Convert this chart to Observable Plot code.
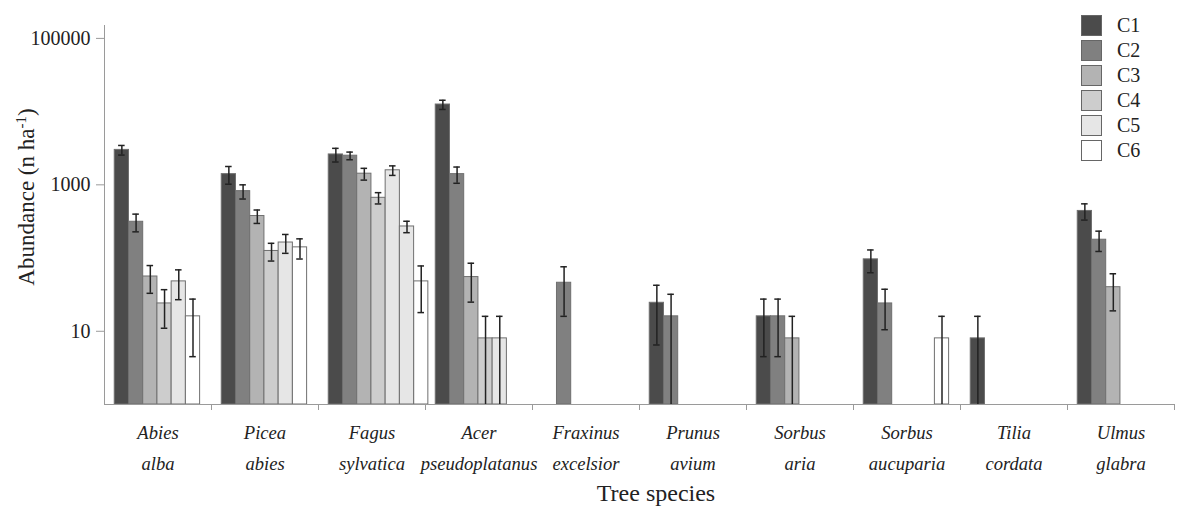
<!DOCTYPE html>
<html>
<head>
<meta charset="utf-8">
<script src="https://cdn.jsdelivr.net/npm/d3@7"></script>
<script src="https://cdn.jsdelivr.net/npm/@observablehq/plot@0.6"></script>
<style>
  html, body { margin: 0; padding: 0; background: #fff; }
  #wrap { position: relative; width: 1177px; height: 507px; font-family: "Liberation Serif", "Times New Roman", serif; }
  #legend { position: absolute; left: 1081px; top: 15px; }
  .item { display: flex; align-items: center; height: 21px; margin-bottom: 4px; }
  .sw { width: 19px; height: 19px; border: 1px solid #666; box-sizing: content-box; }
  .lab { margin-left: 15px; font-size: 20px; color: #222; }
</style>
</head>
<body>
<div id="wrap"><div id="legend"></div></div>
<script>
// ---- data ----
const species = ["Abies alba", "Picea abies", "Fagus sylvatica", "Acer pseudoplatanus", "Fraxinus excelsior",
                 "Prunus avium", "Sorbus aria", "Sorbus aucuparia", "Tilia cordata", "Ulmus glabra"];
const classes = ["C1", "C2", "C3", "C4", "C5", "C6"];
const classColors = ["#4b4b4b", "#808080", "#b3b3b3", "#cdcdcd", "#e6e6e6", "#ffffff"];

// mean abundance (n/ha) per class, species order as above (null = absent)
const c1 = [3000, 1400, 2600, 12500, null, 24.5, 16, 96, 8, 440];
const c2 = [313, 820, 2500, 1400, 46, 16, 16, 24, null, 178];
const c3 = [56, 375, 1420, 55, null, null, 8, null, null, 40];
const c4 = [24, 125, 665, 8, null, null, null, null, null, null];
const c5 = [48, 163, 1580, 8, null, null, null, null, null, null];
const c6 = [16, 140, 48, null, null, null, null, 8, null, null];
// standard errors
const c1se = [450, 380, 550, 1800, null, 18, 11.5, 33, 8, 110];
const c2se = [85, 180, 300, 350, 30, 16, 11.5, 13.5, null, 55];
const c3se = [23, 78, 260, 30, null, null, 8, null, null, 21];
const c4se = [13, 34, 117, 8, null, null, null, null, null, null];
const c5se = [21, 47, 235, 8, null, null, null, null, null, null];
const c6se = [11.5, 43, 30, null, null, null, null, 8, null, null];
// extra (seventh) bar drawn in the Fagus sylvatica group, between C5 and C6
const fagusExtra = {cls: "C5", value: 270, se: 48};

const yTicks = [10, 1000, 100000];
const yDomain = [1, 150000];
const xTitle = "Tree species";

// ---- build table ----
const series = [[c1, c1se], [c2, c2se], [c3, c3se], [c4, c4se], [c5, c5se], [c6, c6se]];
const bars = [];
series.forEach(([vals, ses], j) => vals.forEach((v, i) => {
  if (v != null) bars.push({species: species[i], cls: classes[j], slot: j, value: v, se: ses[i]});
}));
bars.forEach(b => { if (b.species === "Fagus sylvatica" && b.cls === "C6") b.slot = 6; });
bars.push({species: "Fagus sylvatica", cls: fagusExtra.cls, slot: 5, value: fagusExtra.value, se: fagusExtra.se});

const xDomain = [-0.72, 6.8];
const axisGray = "#9a9a9a";
const serif = '"Liberation Serif", "Times New Roman", serif';

const chart = Plot.plot({
  width: 1177, height: 507,
  marginLeft: 101, marginRight: 0, marginTop: 25, marginBottom: 103,
  style: {fontFamily: serif, fontSize: "18px", color: "#222", background: "white"},
  fx: {domain: species, paddingInner: 0, paddingOuter: 0, label: null},
  x: {type: "linear", domain: xDomain, label: null},
  y: {type: "log", domain: yDomain, label: null},
  color: {domain: classes, range: classColors},
  marks: [
    Plot.rect(bars, {fx: "species", x1: d => d.slot, x2: d => d.slot + 1, y1: yDomain[0], y2: "value",
                     fill: "cls", stroke: "#6f6f6f", strokeWidth: 1}),
    Plot.ruleX(bars, {fx: "species", x: d => d.slot + 0.5, y1: d => Math.max(d.value - d.se, yDomain[0]),
                      y2: d => d.value + d.se, stroke: "#222", strokeWidth: 1.5}),
    Plot.ruleY(bars, {fx: "species", x1: d => d.slot + 0.27, x2: d => d.slot + 0.73, y: d => d.value + d.se,
                      stroke: "#222", strokeWidth: 1.5}),
    Plot.ruleY(bars.filter(d => d.value - d.se > yDomain[0]),
               {fx: "species", x1: d => d.slot + 0.27, x2: d => d.slot + 0.73, y: d => d.value - d.se,
                stroke: "#222", strokeWidth: 1.5}),
    Plot.ruleY([yDomain[0]], {stroke: axisGray, strokeWidth: 1}),
    Plot.ruleX([species[0]], {fx: d => d, x: () => xDomain[0], y1: () => yDomain[0], y2: () => yDomain[1],
                              stroke: axisGray, strokeWidth: 1}),
    Plot.axisY({ticks: yTicks, tickFormat: d3.format("d"), tickSize: 8, tickPadding: 6, stroke: axisGray,
                fontSize: 20, fontFamily: serif, label: null}),
    Plot.axisX({ticks: [xDomain[1]], tickFormat: () => "", tickSize: 6, stroke: axisGray, label: null}),
    Plot.axisFx({anchor: "bottom", tickSize: 0, tickPadding: 13, fontSize: 18.6, fontStyle: "italic",
                 fontFamily: serif, lineHeight: 1.65, label: null, tickFormat: d => d.replace(" ", "\n")})
  ]
});

const svg = d3.select(chart);
// y-axis title with superscript
const yt = svg.append("text")
  .attr("transform", "translate(34,197) rotate(-90)")
  .attr("text-anchor", "middle")
  .attr("font-family", serif)
  .attr("font-size", 23).attr("fill", "#222");
yt.append("tspan").text("Abundance (n ha");
yt.append("tspan").attr("baseline-shift", "super").attr("font-size", 15).text("-1");
yt.append("tspan").text(")");
// x-axis title
svg.append("text").attr("x", 656).attr("y", 501).attr("text-anchor", "middle")
  .attr("font-family", serif)
  .attr("font-size", 24).attr("fill", "#222").text(xTitle);

document.getElementById("wrap").prepend(chart);
chart.style.position = "absolute"; chart.style.left = "0"; chart.style.top = "0";

// legend
const leg = d3.select("#legend");
classes.forEach((c, i) => {
  const it = leg.append("div").attr("class", "item");
  it.append("div").attr("class", "sw").style("background", classColors[i]);
  it.append("div").attr("class", "lab").text(c);
});
</script>
</body>
</html>
